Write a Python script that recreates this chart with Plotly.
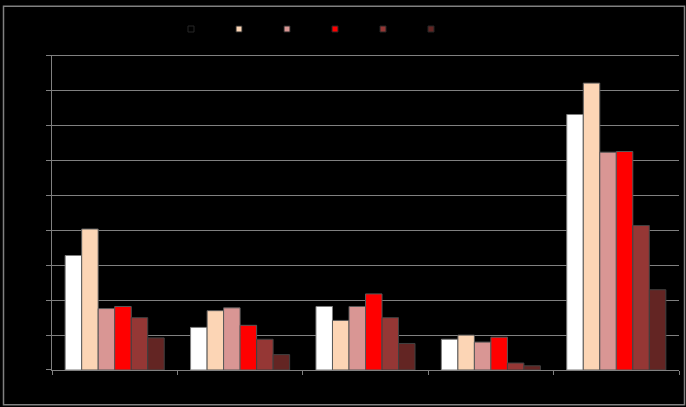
import plotly.graph_objects as go

categories = ["Cat 1", "Cat 2", "Cat 3", "Cat 4", "Cat 5"]
series_names = ["S1", "S2", "S3", "S4", "S5", "S6"]
series_colors = ["#FFFFFF", "#FCD5B5", "#D99694", "#FF0000", "#953735", "#632523"]
line_colors = ["#7F7F7F", "#595959", "#595959", "#595959", "#404040", "#404040"]
legend_colors = ["#000000", "#FCD5B5", "#D99694", "#FF0000", "#953735", "#632523"]

s1 = [16.4, 6.1, 9.1, 4.4, 36.6]
s2 = [20.2, 8.5, 7.1, 5.0, 41.1]
s3 = [8.8, 8.9, 9.1, 4.0, 31.2]
s4 = [9.1, 6.4, 10.9, 4.7, 31.3]
s5 = [7.5, 4.4, 7.5, 1.0, 20.7]
s6 = [4.6, 2.2, 3.8, 0.6, 11.5]
series_values = [s1, s2, s3, s4, s5, s6]

W, H = 686, 407
L, R, T, B = 52, 7, 53.5, 37

fig = go.Figure()
for name, vals, col, lc in zip(series_names, series_values, series_colors, line_colors):
    fig.add_trace(go.Bar(
        x=categories, y=vals, name=name, legendgroup=name, showlegend=False,
        marker=dict(color=col, line=dict(color=lc, width=1)),
    ))
# legend entries (small square keys, as in the reference)
for name, lcol in zip(series_names, legend_colors):
    fig.add_trace(go.Scatter(
        x=[None], y=[None], mode="markers", name=name, legendgroup=name,
        marker=dict(symbol="square", size=6, color=lcol,
                    line=dict(color="#262626", width=1)),
    ))

grid = "#808080"
fig.update_layout(
    width=W, height=H,
    margin=dict(l=L, r=R, t=T, b=B, pad=0),
    paper_bgcolor="#000000", plot_bgcolor="#000000",
    barmode="group", bargap=0.21, bargroupgap=0,
    font=dict(family="Liberation Sans, Arial", size=9, color="#000000"),
    showlegend=True,
    legend=dict(
        orientation="h", xref="container", yref="container",
        x=(191 - 20) / W, xanchor="left",
        y=1 - 29 / H, yanchor="middle",
        entrywidth=3, entrywidthmode="pixels",
        font=dict(color="#000000", size=9),
        bgcolor="rgba(0,0,0,0)",
    ),
    xaxis=dict(
        showgrid=False, showline=True, linecolor=grid, linewidth=1, mirror=True,
        ticks="outside", tickson="boundaries", ticklen=4, tickcolor=grid,
        tickfont=dict(color="#000000"), zeroline=False,
    ),
    yaxis=dict(
        range=[0, 45], tick0=0, dtick=5, showgrid=True, gridcolor=grid, gridwidth=1,
        showline=True, linecolor=grid, linewidth=1,
        ticks="outside", ticklen=5, tickcolor=grid,
        tickfont=dict(color="#000000"), zeroline=False,
    ),
    shapes=[dict(
        type="rect", xref="paper", yref="paper",
        x0=(3.5 - L) / (W - L - R), x1=(684.5 - L) / (W - L - R),
        y0=(H - 405 - B) / (H - T - B), y1=(H - 3.5 - B) / (H - T - B),
        line=dict(color="#808080", width=1.5), layer="below",
    )],
)

fig.write_html("out.html")
